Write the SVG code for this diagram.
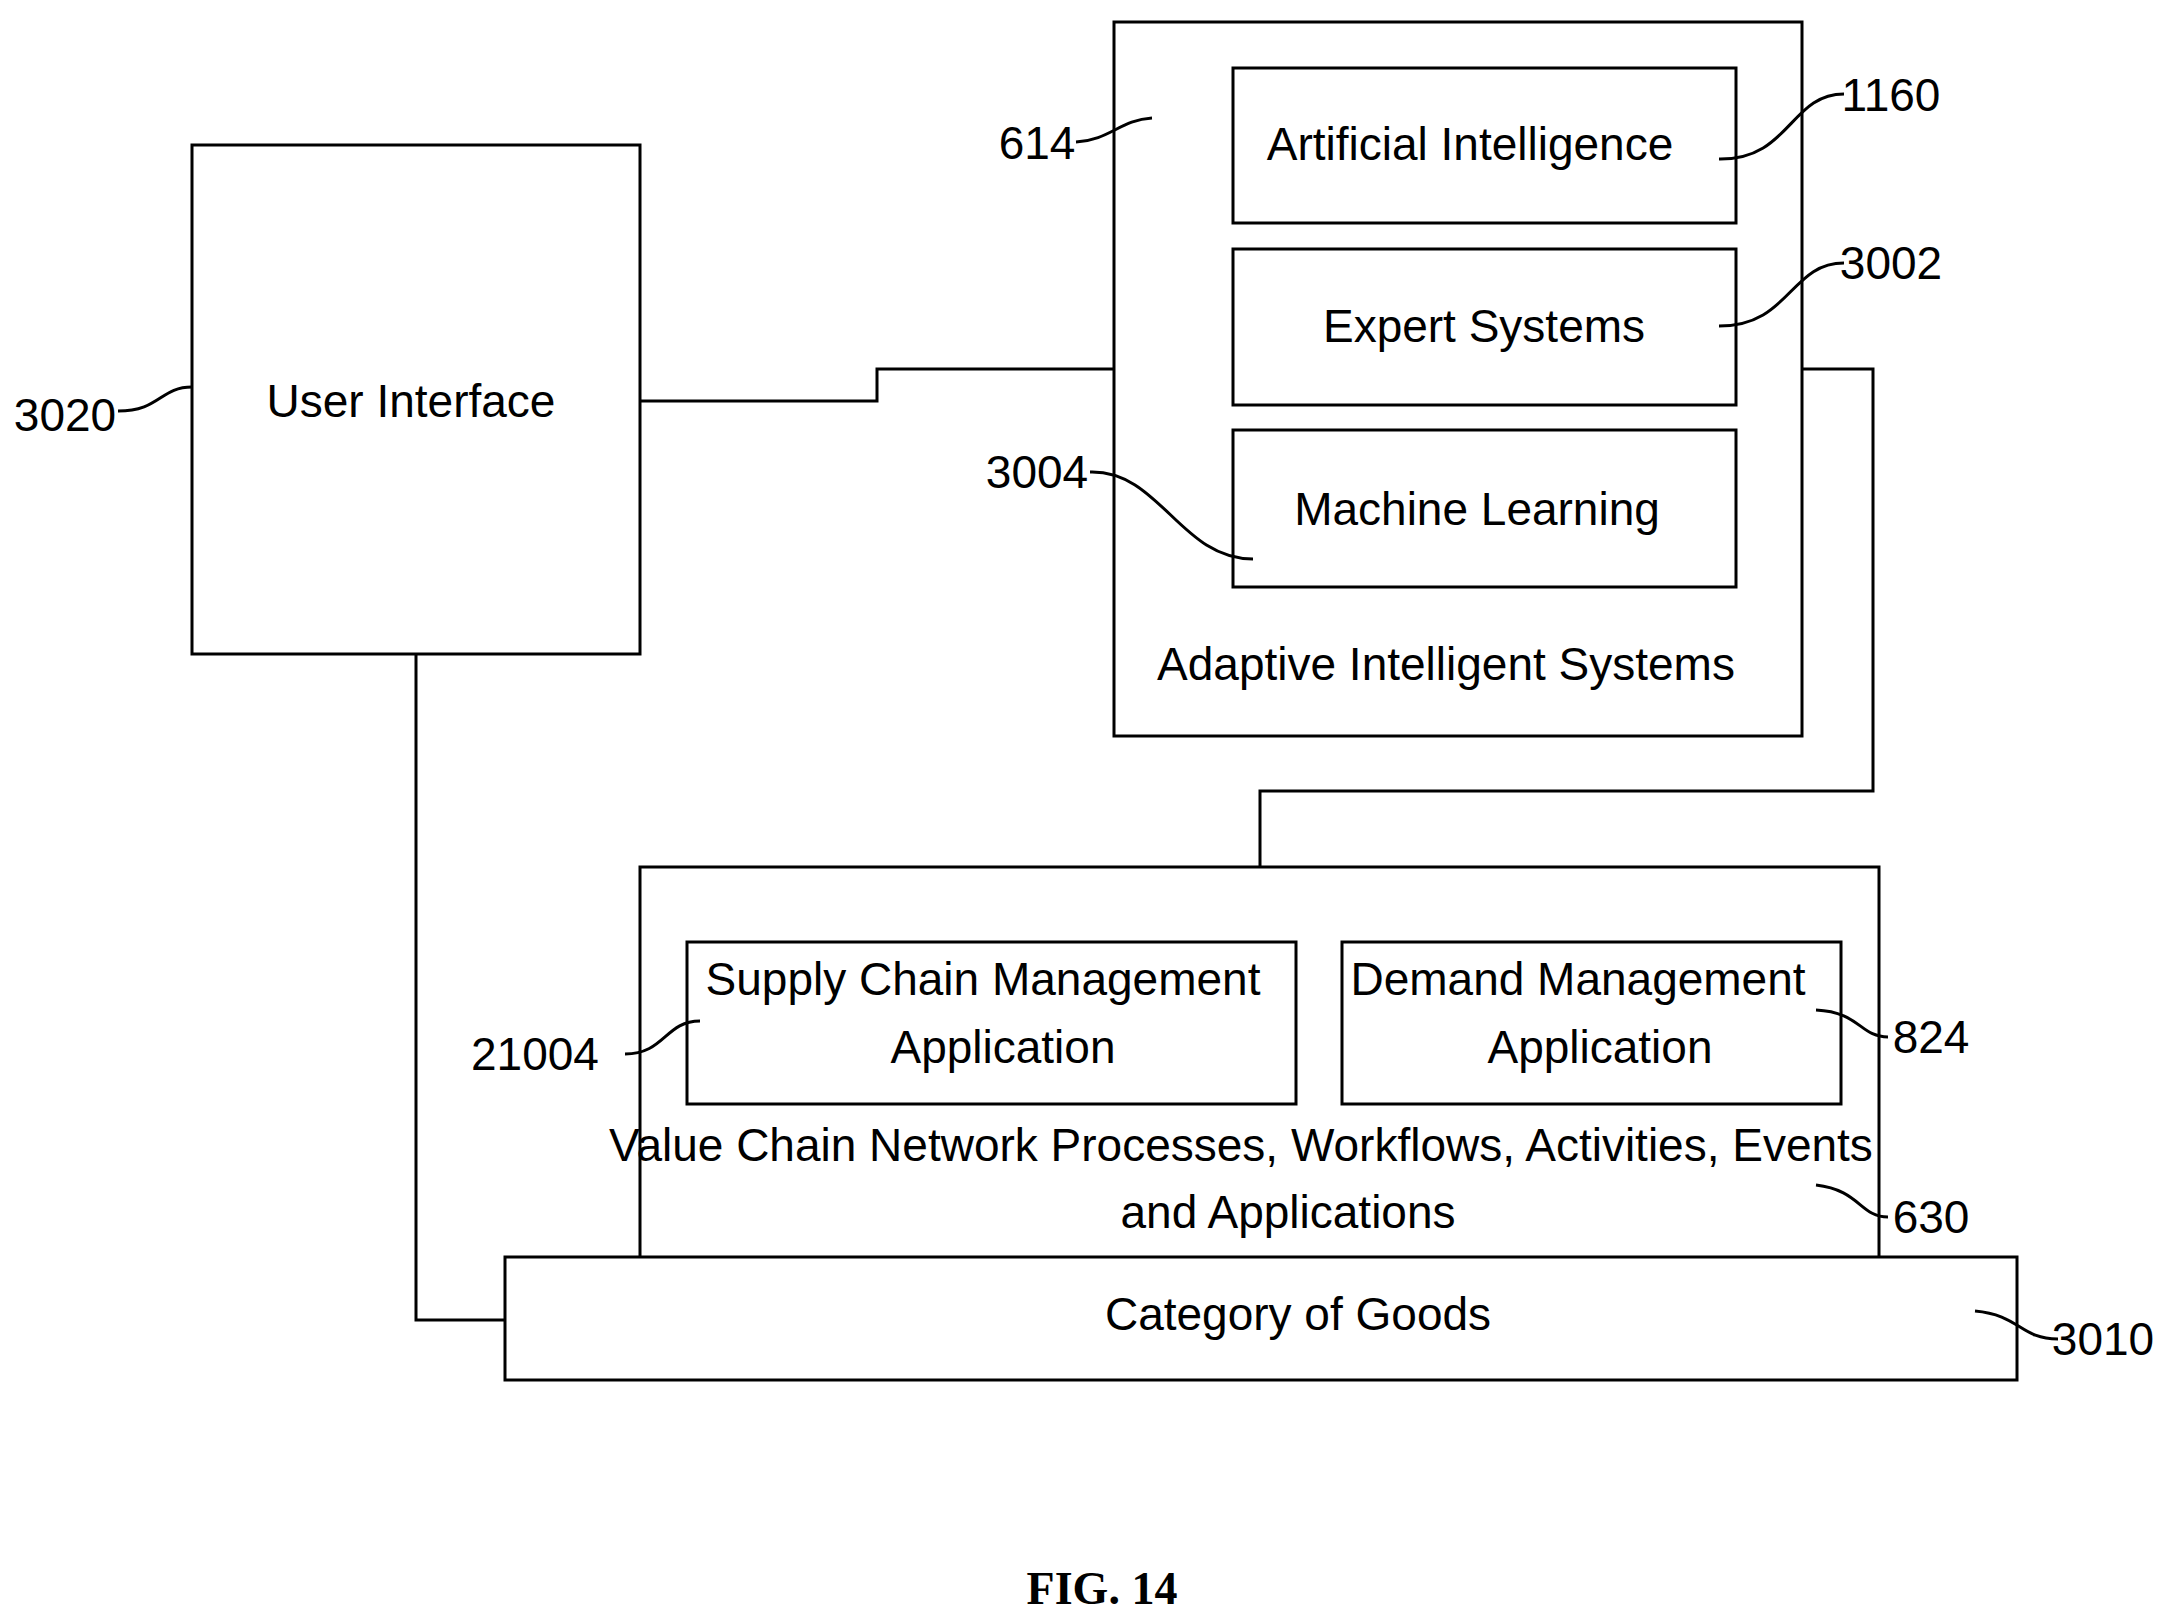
<svg xmlns="http://www.w3.org/2000/svg" width="2158" height="1620" viewBox="0 0 2158 1620">
<style>
rect{fill:#fff;stroke:#000;stroke-width:3}
path{fill:none;stroke:#000;stroke-width:3}
text{font-family:"Liberation Sans Narrow","Liberation Sans",sans-serif;font-size:46px;fill:#000;dominant-baseline:central}
.c{text-anchor:middle}
.f{font-family:"Liberation Serif",serif;font-weight:bold;font-size:46px}
</style>
<rect width="2158" height="1620" style="stroke:none"/>
<g id="connectors">
<path d="M640,401H877V369H1114"/>
<path d="M1802,369H1873V791H1260V867"/>
<path d="M416,654V1320H505"/>
</g>
<g id="ui"><rect x="192" y="145" width="448" height="509"/><text class="c" x="411" y="401">User Interface</text></g>
<g id="ais"><rect x="1114" y="22" width="688" height="714"/><text class="c" x="1446" y="664">Adaptive Intelligent Systems</text></g>
<g id="ai"><rect x="1233" y="68" width="503" height="155"/><text class="c" x="1470" y="144">Artificial Intelligence</text></g>
<g id="es"><rect x="1233" y="249" width="503" height="156"/><text class="c" x="1484" y="326">Expert Systems</text></g>
<g id="ml"><rect x="1233" y="430" width="503" height="157"/><text class="c" x="1477" y="509">Machine Learning</text></g>
<g id="vcn"><rect x="640" y="867" width="1239" height="392"/><text class="c" x="1241" y="1145">Value Chain Network Processes, Workflows, Activities, Events</text><text class="c" x="1288" y="1212">and Applications</text></g>
<g id="scm"><rect x="687" y="942" width="609" height="162"/><text class="c" x="983" y="979">Supply Chain Management</text><text class="c" x="1003" y="1047">Application</text></g>
<g id="dm"><rect x="1342" y="942" width="499" height="162"/><text class="c" x="1578" y="979">Demand Management</text><text class="c" x="1600" y="1047">Application</text></g>
<g id="cog"><rect x="505" y="1257" width="1512" height="123"/><text class="c" x="1298" y="1314">Category of Goods</text></g>
<g id="labels">
<text class="c" x="1037" y="143">614</text><path d="M1076,142C1110,140 1120,120 1152,118"/>
<text class="c" x="1891" y="95">1160</text><path d="M1719,159C1790,160 1790,94 1844,94"/>
<text class="c" x="1891" y="263">3002</text><path d="M1719,326C1790,326 1790,263 1844,263"/>
<text class="c" x="1037" y="472">3004</text><path d="M1090,472C1160,470 1180,559 1253,559"/>
<text class="c" x="65" y="415">3020</text><path d="M118,411C160,411 160,387 192,387"/>
<text class="c" x="535" y="1054">21004</text><path d="M625,1054C665,1054 665,1021 700,1021"/>
<text class="c" x="1931" y="1037">824</text><path d="M1816,1010C1860,1012 1860,1037 1888,1037"/>
<text class="c" x="1931" y="1217">630</text><path d="M1816,1185C1860,1190 1860,1217 1888,1217"/>
<text class="c" x="2103" y="1339">3010</text><path d="M1975,1311C2020,1315 2020,1339 2058,1339"/>
<text class="c f" x="1102" y="1588">FIG. 14</text>
</g>
</svg>
